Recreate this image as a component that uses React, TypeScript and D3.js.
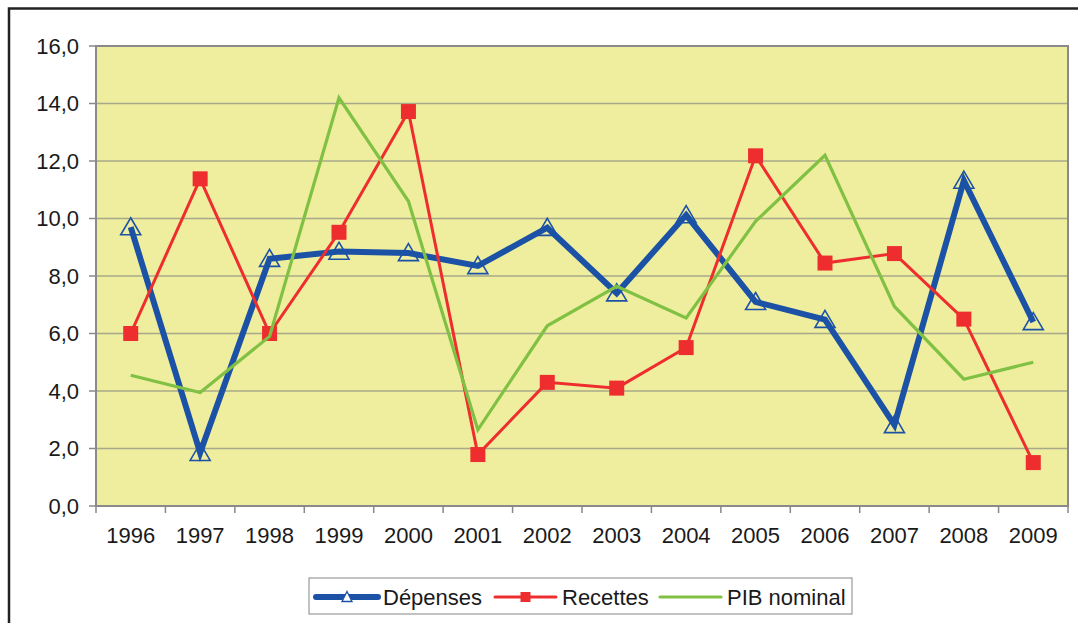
import React from "react";
import * as d3 from "d3";

const years = ["1996","1997","1998","1999","2000","2001","2002","2003","2004","2005","2006","2007","2008","2009"];
const depenses = [9.7, 1.85, 8.6, 8.85, 8.8, 8.35, 9.68, 7.4, 10.12, 7.1, 6.48, 2.82, 11.32, 6.4];
const recettes = [6.0, 11.38, 6.0, 9.52, 13.72, 1.79, 4.3, 4.1, 5.51, 12.18, 8.45, 8.78, 6.5, 1.51];
const pib = [4.55, 3.95, 5.9, 14.2, 10.6, 2.65, 6.27, 7.64, 6.54, 9.9, 12.2, 6.94, 4.41, 5.0];
const yTicks = [0, 2, 4, 6, 8, 10, 12, 14, 16];
const legendLabels = ["Dépenses", "Recettes", "PIB nominal"];

const W = 1078, H = 623;
const PL = 96, PR = 1068, PT = 46, PB = 506;
const BLUE = "#1c52a6";
const RED = "#ee2e2e";
const GREEN = "#80c144";
const FONT = "'Liberation Sans', Arial, sans-serif";

export default function App() {
  const x = d3.scaleBand<string>().domain(years).range([PL, PR]).padding(0);
  const y = d3.scaleLinear().domain([0, 16]).range([PB, PT]);
  const cx = (i: number) => (x(years[i]) as number) + x.bandwidth() / 2;
  const line = d3.line<number>().x((_, i) => cx(i)).y((d) => y(d));
  const fmt = (v: number) => v.toFixed(1).replace(".", ",");
  const tri = (px: number, py: number, hw: number, h: number) =>
    `M${px},${py - h * 0.55}L${px + hw},${py + h * 0.45}L${px - hw},${py + h * 0.45}Z`;
  const bounds = years.map((_, i) => x(years[i]) as number).concat([PR]);

  const legendY = 597;
  const items = [
    { x0: 316, x1: 378, tx: 383, color: BLUE, w: 6, label: legendLabels[0], mk: "tri" },
    { x0: 495, x1: 556, tx: 562, color: RED, w: 3, label: legendLabels[1], mk: "sq" },
    { x0: 660, x1: 721, tx: 727, color: GREEN, w: 3.2, label: legendLabels[2], mk: "" },
  ];

  return (
    <svg width={W} height={H} style={{ position: "absolute", left: 0, top: 0, background: "#fff" }} fontFamily={FONT}>
      <rect x={9} y={8.5} width={W + 20} height={H + 20} fill="#fff" stroke="#222" strokeWidth={2.5} />
      <rect x={PL} y={PT} width={PR - PL} height={PB - PT} fill="#eeee9e" />
      {yTicks.map((t) => (
        <g key={t}>
          {t > 0 && t < 16 && <line x1={PL} x2={PR} y1={y(t)} y2={y(t)} stroke="#a9a88a" strokeWidth={1.5} />}
          <line x1={PL - 7} x2={PL} y1={y(t)} y2={y(t)} stroke="#888" strokeWidth={1.5} />
          <text x={79} y={y(t) + 7.8} textAnchor="end" fontSize={22} fill="#1a1a1a">{fmt(t)}</text>
        </g>
      ))}
      <rect x={PL} y={PT} width={PR - PL} height={PB - PT} fill="none" stroke="#8a8a8a" strokeWidth={2} />
      {bounds.map((b, i) => (
        <line key={i} x1={b} x2={b} y1={PB} y2={PB + 7} stroke="#888" strokeWidth={1.5} />
      ))}
      {years.map((yr, i) => (
        <text key={yr} x={cx(i)} y={543} textAnchor="middle" fontSize={22} fill="#1a1a1a">{yr}</text>
      ))}
      <path d={line(depenses) || ""} fill="none" stroke={BLUE} strokeWidth={6} strokeLinejoin="miter" />
      {depenses.map((v, i) => (
        <path key={i} d={tri(cx(i), y(v), 10, 17)} fill="none" stroke={BLUE} strokeWidth={1.6} />
      ))}
      <path d={line(recettes) || ""} fill="none" stroke={RED} strokeWidth={3} />
      {recettes.map((v, i) => (
        <rect key={i} x={cx(i) - 7.5} y={y(v) - 7.5} width={15} height={15} fill={RED} />
      ))}
      <path d={line(pib) || ""} fill="none" stroke={GREEN} strokeWidth={3.2} />
      <rect x={309} y={578} width={543} height={36} fill="#fff" stroke="#999" strokeWidth={1.2} />
      {items.map((it) => {
        const mx = (it.x0 + it.x1) / 2;
        return (
          <g key={it.label}>
            <line x1={it.x0} x2={it.x1} y1={legendY} y2={legendY} stroke={it.color} strokeWidth={it.w} strokeLinecap="round" />
            {it.mk === "tri" && <path d={tri(mx, legendY, 5, 10)} fill="#fff" stroke={it.color} strokeWidth={1.3} />}
            {it.mk === "sq" && <rect x={mx - 5} y={legendY - 5} width={10} height={10} fill={it.color} />}
            <text x={it.tx} y={legendY + 7.8} fontSize={22} fill="#1a1a1a">{it.label}</text>
          </g>
        );
      })}
    </svg>
  );
}
